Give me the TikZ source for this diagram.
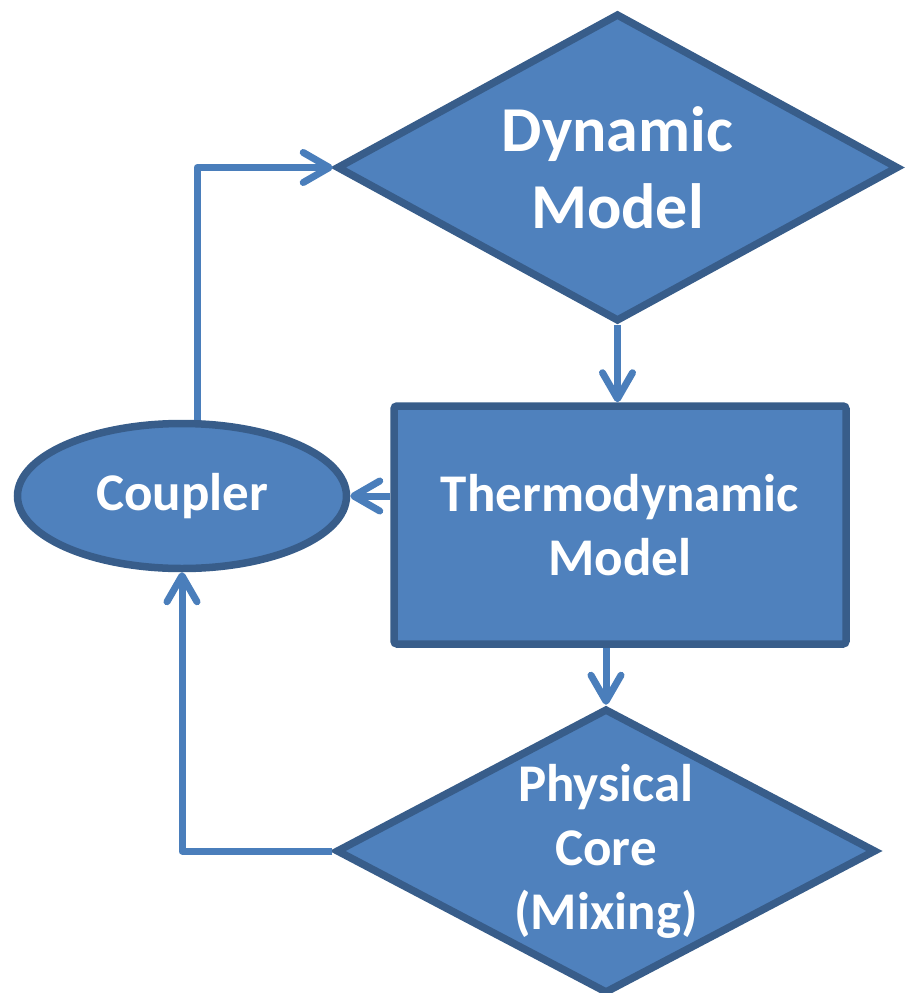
\documentclass[tikz,border=0pt]{standalone}
\usepackage{fontspec}
\setmainfont{Carlito}
\usepackage{xcolor}
\usepackage{tikz}
\usetikzlibrary{shapes.geometric,arrows.meta}

\definecolor{boxfill}{HTML}{4F81BD}
\definecolor{boxline}{HTML}{385D8A}
\definecolor{flowline}{HTML}{4A7EBB}

\begin{document}
\begin{tikzpicture}[x=1pt,y=-1pt,
  block/.style={draw=boxline, fill=boxfill, line width=7.5pt, text=white,
    font=\fontsize{53}{64}\selectfont\bfseries, align=center, inner sep=0pt},
  flow/.style={draw=flowline, line width=7pt, line join=round,
    -{Straight Barb[length=26pt,width=30pt,round]}}]

\useasboundingbox (0,0) rectangle (906,993);

% Shapes
\node [block, diamond, aspect=1.825, minimum width=562, minimum height=308,
  font=\fontsize{64}{77}\selectfont\bfseries] (dyn) at (617.5,167.5) {Dynamic\\Model};
\node [block, rectangle, rounded corners=3pt, minimum width=452, minimum height=238] (thermo) at (620,525) {Thermodynamic\\Model};
\node [block, ellipse, minimum width=329, minimum height=145] (coupler) at (182,496) {Coupler};
\node [block, diamond, aspect=1.908, minimum width=540, minimum height=285] (phys) at (606,851) {Physical\\Core\\(Mixing)};

% Arrows for flow
\draw [flow] ([xshift=15pt]coupler.north) |- (dyn.west);
\draw [flow] (dyn.south) -- (dyn.south |- thermo.north);
\draw [flow] (thermo.west |- coupler.east) -- (coupler.east);
\draw [flow] (phys.north |- thermo.south) -- (phys.north);
\draw [flow] (phys.west) -| (coupler.south);

\end{tikzpicture}
\end{document}
